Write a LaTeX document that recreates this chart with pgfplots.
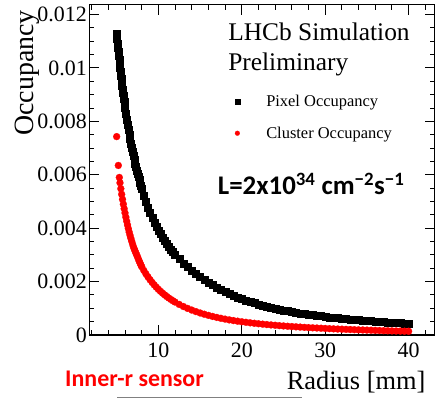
\documentclass[border=0pt]{standalone}
\usepackage{pgfplots}
\pgfplotsset{compat=1.18}
\usepackage{pgfplotstable}
\usepackage{fontspec}
\setmainfont{Liberation Serif}
\newfontfamily\carlito{Carlito}

\pgfplotstableread{
r occ
5.00 0.011270
5.05 0.011098
5.10 0.010930
5.15 0.010766
5.20 0.010606
5.25 0.010450
5.30 0.010298
5.35 0.010150
5.40 0.010005
5.45 0.009864
5.50 0.009725
5.55 0.009591
5.60 0.009459
5.65 0.009330
5.70 0.009204
5.75 0.009081
5.80 0.008960
5.85 0.008843
5.90 0.008727
5.95 0.008615
6.00 0.008504
6.1 0.008290
6.2 0.008085
6.3 0.007889
6.4 0.007700
6.5 0.007519
6.6 0.007345
6.7 0.007178
6.8 0.007017
6.9 0.006861
7.0 0.006712
7.1 0.006568
7.2 0.006429
7.3 0.006295
7.4 0.006165
7.5 0.006040
7.6 0.005919
7.7 0.005803
7.8 0.005690
7.9 0.005580
8.0 0.005475
8.25 0.005225
8.5 0.004993
8.75 0.004777
9.0 0.004579
9.25 0.004397
9.5 0.004227
9.75 0.004068
10.0 0.003919
10.25 0.003781
10.5 0.003655
10.75 0.003533
11.0 0.003418
11.25 0.003310
11.5 0.003210
11.75 0.003113
12.0 0.003021
12.5 0.002847
13.0 0.002691
13.5 0.002549
14.0 0.002419
14.5 0.002294
15.0 0.002180
15.5 0.002068
16.0 0.001966
16.5 0.001871
17.0 0.001782
17.5 0.001698
18.0 0.001618
18.5 0.001547
19.0 0.001480
19.5 0.001418
20.0 0.001359
20.5 0.001303
21.0 0.001252
21.5 0.001202
22.0 0.001156
22.5 0.001112
23.0 0.001072
23.5 0.001033
24.0 0.000997
24.5 0.000963
25.0 0.000932
25.5 0.000902
26.0 0.000873
26.5 0.000846
27.0 0.000820
27.5 0.000796
28.0 0.000772
28.5 0.000750
29.0 0.000729
29.5 0.000708
30.0 0.000689
30.5 0.000670
31.0 0.000653
31.5 0.000636
32.0 0.000620
32.5 0.000605
33.0 0.000590
33.5 0.000576
34.0 0.000562
34.5 0.000549
35.0 0.000537
35.5 0.000524
36.0 0.000512
36.5 0.000501
37.0 0.000490
37.5 0.000480
38.0 0.000469
38.5 0.000460
39.0 0.000450
39.5 0.000441
40.0 0.000432
}\pixeltable

\pgfplotstableread{
r occ
5.00 0.00743
5.20 0.00635
5.32 0.00590
5.40 0.00570
5.50 0.00548
5.60 0.00527
5.70 0.00508
5.80 0.00490
5.90 0.00473
6.0 0.004571
6.1 0.004414
6.2 0.004264
6.3 0.004121
6.4 0.003985
6.5 0.003855
6.6 0.003737
6.7 0.003624
6.8 0.003516
6.9 0.003412
7.0 0.003313
7.1 0.003229
7.2 0.003149
7.3 0.003072
7.4 0.002998
7.5 0.002926
7.6 0.002847
7.7 0.002770
7.8 0.002697
7.9 0.002626
8.0 0.002558
8.25 0.002420
8.5 0.002293
8.75 0.002177
9.0 0.002069
9.25 0.001970
9.5 0.001877
9.75 0.001792
10.0 0.001712
10.25 0.001637
10.5 0.001568
10.75 0.001503
11.0 0.001442
11.25 0.001385
11.5 0.001331
11.75 0.001280
12.0 0.001233
12.5 0.001145
13.0 0.001067
13.5 0.000997
14.0 0.000934
14.5 0.000877
15.0 0.000825
15.5 0.000778
16.0 0.000735
16.5 0.000695
17.0 0.000659
17.5 0.000625
18.0 0.000594
18.5 0.000566
19.0 0.000541
19.5 0.000517
20.0 0.000496
20.5 0.000476
21.0 0.000457
21.5 0.000439
22.0 0.000422
22.5 0.000406
23.0 0.000391
23.5 0.000377
24.0 0.000364
24.5 0.000351
25.0 0.000339
25.5 0.000327
26.0 0.000316
26.5 0.000306
27.0 0.000296
27.5 0.000286
28.0 0.000277
28.5 0.000269
29.0 0.000261
29.5 0.000253
30.0 0.000246
30.5 0.000238
31.0 0.000231
31.5 0.000224
32.0 0.000217
32.5 0.000211
33.0 0.000205
33.5 0.000199
34.0 0.000193
34.5 0.000188
35.0 0.000183
35.5 0.000178
36.0 0.000173
36.5 0.000168
37.0 0.000163
37.5 0.000159
38.0 0.000154
38.5 0.000150
39.0 0.000146
39.5 0.000142
40.0 0.000139
}\clustertable

\begin{document}
\begin{tikzpicture}
\begin{axis}[
  scale only axis,
  width=345.2bp, height=330.3bp,
  xmin=1.72, xmax=43.1,
  ymin=0, ymax=0.01237,
  xtick={10,20,30,40},
  minor xtick={2,4,6,8,12,14,16,18,22,24,26,28,32,34,36,38,42},
  ytick={0,0.002,0.004,0.006,0.008,0.01,0.012},
  yticklabels={0,0.002,0.004,0.006,0.008,0.01,0.012},
  minor ytick={0.0005,0.001,0.0015,0.0025,0.003,0.0035,0.0045,0.005,0.0055,0.0065,0.007,0.0075,0.0085,0.009,0.0095,0.0105,0.011,0.0115},
  scaled y ticks=false,
  tick align=inside,
  major tick length=10bp,
  minor tick length=5bp,
  axis line style={line width=1.2bp},
  every tick/.style={black, line width=1bp},
  /pgf/number format/assume math mode=true,
  tick label style={font=\fontsize{22}{26}\selectfont},
  xticklabel style={yshift=-4bp},
  yticklabel style={xshift=1bp},
  xlabel={Radius [mm]},
  ylabel={Occupancy},
  xlabel style={font=\fontsize{26.5}{30}\selectfont, at={(axis description cs:0.984,-0.1665)}, anchor=base east},
  ylabel style={font=\fontsize{28}{30}\selectfont, at={(axis description cs:-0.162,0.994)}, anchor=base east, rotate=0},
  clip=false,
  legend style={at={(axis description cs:0.422,0.733)}, anchor=north west, draw=none, fill=none,
    inner sep=0pt, outer sep=0pt, font=\fontsize{16.5}{19}\selectfont, row sep=15bp,
    /tikz/every odd column/.append style={column sep=24.5bp}},
  legend cell align=left,
  legend image code/.code={\draw[#1, mark size=2.4bp] plot coordinates {(0bp,0bp)};},
]
\addplot[only marks, mark=square*, mark size=3.5bp, black, mark options={line width=0.2bp}] table[x=r, y=occ] {\pixeltable};
\addlegendentry{Pixel Occupancy}
\addplot[only marks, mark=*, mark size=3.5bp, red, mark options={line width=0.2bp}] table[x=r, y=occ] {\clustertable};
\addlegendentry{Cluster Occupancy}

\node[anchor=base west, font=\fontsize{25.5}{30}\selectfont, inner sep=0pt] at (axis description cs:0.402,0.893) {LHCb Simulation};
\node[anchor=base west, font=\fontsize{25.5}{30}\selectfont, inner sep=0pt] at (axis description cs:0.402,0.802) {Preliminary};
\node[anchor=base west, font=\carlito\bfseries\fontsize{27}{30}\selectfont, inner sep=0pt] at (axis description cs:0.372,0.424) {L=2x10\textsuperscript{34} cm\textsuperscript{−2}s\textsuperscript{−1}};
\node[anchor=base west, font=\carlito\bfseries\fontsize{24}{28}\selectfont, text=red, inner sep=0pt] at (axis description cs:-0.0704,-0.1565) {Inner-r sensor};
\draw[gray, line width=0.8bp] (axis description cs:0.0805,-0.1877) -- (axis description cs:0.6161,-0.1877);

\coordinate (SW) at (rel axis cs:0,0);
\coordinate (NE) at (rel axis cs:1,1);
\end{axis}
\pgfresetboundingbox
\path[use as bounding box] ([xshift=-89.3bp,yshift=-63bp]SW) rectangle ([xshift=0.5bp,yshift=4.7bp]NE);
\end{tikzpicture}
\end{document}
